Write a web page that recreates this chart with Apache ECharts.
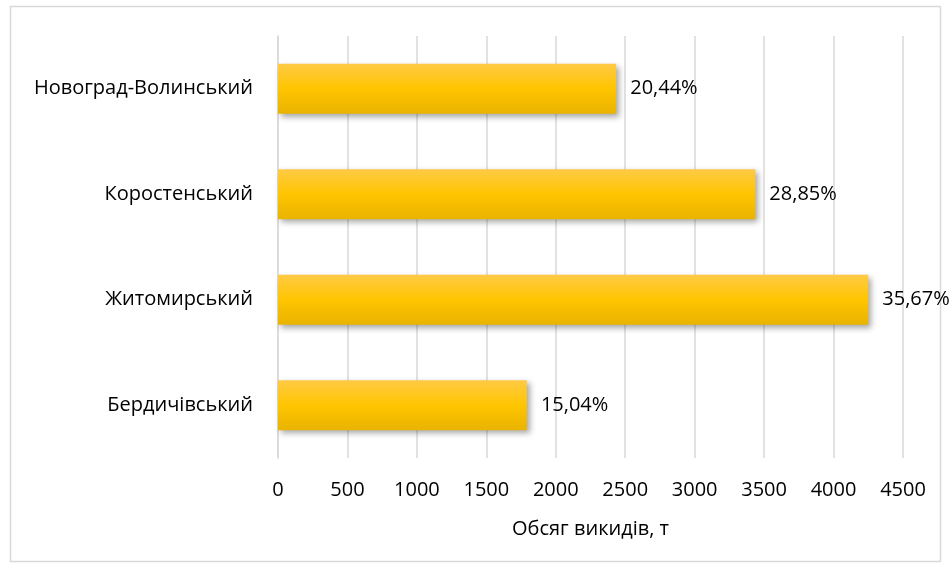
<!DOCTYPE html>
<html>
<head>
<meta charset="utf-8">
<script src="https://cdn.jsdelivr.net/npm/echarts@6/dist/echarts.min.js"></script>
<style>
html,body{margin:0;padding:0;background:#fff;}
#chart{width:950px;height:569px;}
</style>
</head>
<body>
<div id="chart"></div>
<script>
// Обсяг викидів по районах (т) та частка від загального обсягу
const districts = ['Бердичівський', 'Житомирський', 'Коростенський', 'Новоград-Волинський'];
const emissions = [1792, 4250, 3437, 2435];
const shares = ['15,04%', '35,67%', '28,85%', '20,44%'];
const xTicks = [0, 500, 1000, 1500, 2000, 2500, 3000, 3500, 4000, 4500];

const font = '"Open Sans", "Noto Sans", sans-serif';

const chart = echarts.init(document.getElementById('chart'), null, {renderer: 'canvas'});
chart.setOption({
  backgroundColor: '#fff',
  animation: false,
  graphic: [{
    type: 'rect',
    shape: {x: 10.5, y: 6.5, width: 930, height: 555},
    style: {fill: 'none', stroke: '#d9d9d9', lineWidth: 1.5},
    silent: true
  }],
  grid: {left: 278, right: 47, top: 36, bottom: 111},
  xAxis: {
    type: 'value',
    min: xTicks[0],
    max: xTicks[xTicks.length - 1],
    interval: 500,
    name: 'Обсяг викидів, т',
    nameLocation: 'middle',
    nameGap: 61,
    nameTextStyle: {fontFamily: font, fontSize: 20, color: '#000'},
    axisLine: {show: false},
    axisTick: {show: false},
    axisLabel: {fontFamily: font, fontSize: 20, color: '#000', margin: 22, formatter: v => String(v)},
    splitLine: {lineStyle: {color: '#d9d9d9', width: 1.5}}
  },
  yAxis: {
    type: 'category',
    data: districts,
    axisLine: {lineStyle: {color: '#d9d9d9', width: 1.5}},
    axisTick: {show: false},
    axisLabel: {fontFamily: font, fontSize: 20, color: '#000', margin: 25}
  },
  series: [{
    type: 'bar',
    data: emissions,
    barWidth: 50,
    itemStyle: {
      color: new echarts.graphic.LinearGradient(0, 0, 0, 1, [
        {offset: 0, color: '#ffca45'},
        {offset: 0.5, color: '#ffc500'},
        {offset: 1, color: '#e9b300'}
      ]),
      shadowColor: 'rgba(0,0,0,0.35)',
      shadowBlur: 6,
      shadowOffsetX: 3,
      shadowOffsetY: 3
    },
    label: {
      show: true,
      position: 'right',
      distance: 14,
      fontFamily: font,
      fontSize: 20,
      color: '#000',
      formatter: p => shares[p.dataIndex]
    }
  }]
});
</script>
</body>
</html>
